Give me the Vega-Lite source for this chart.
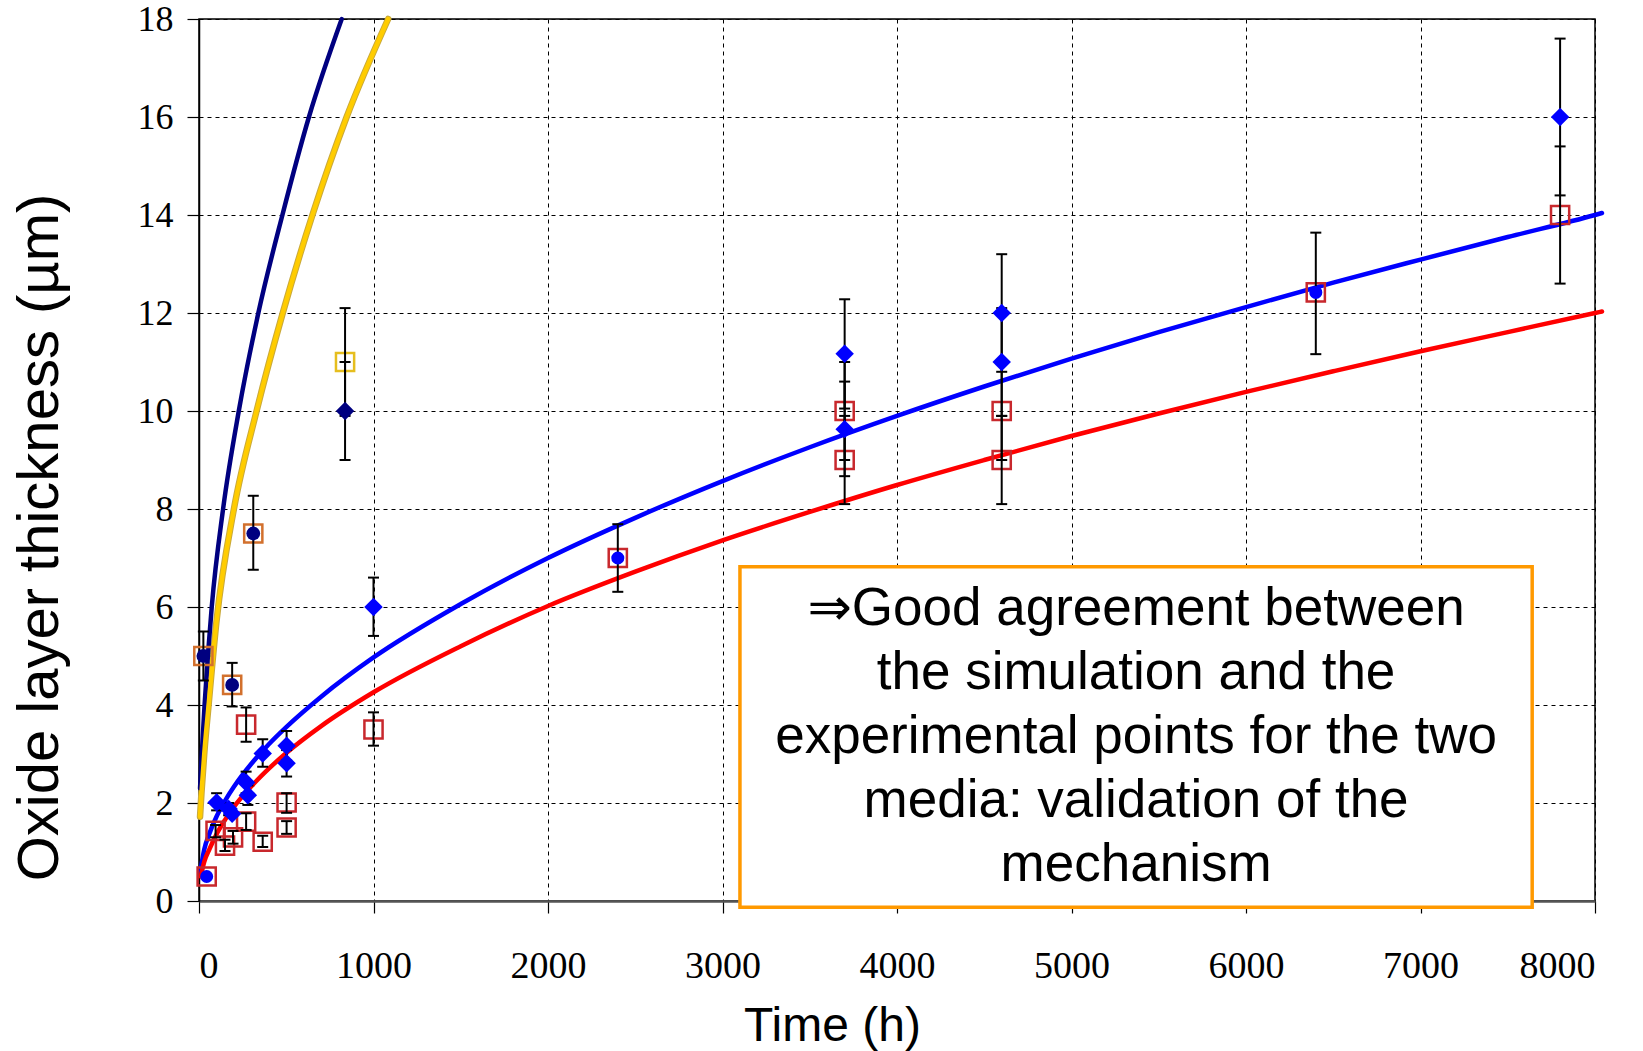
{
  "$schema": "https://vega.github.io/schema/vega-lite/v6.json",
  "width": 1396,
  "height": 882,
  "autosize": {"type": "none"},
  "padding": {"left": 199, "top": 19, "right": 48, "bottom": 150},
  "background": "white",
  "config": {
    "view": {"stroke": "#000", "strokeWidth": 1.5},
    "axis": {
      "grid": true, "gridColor": "#000", "gridDash": [4, 4], "gridWidth": 1, "gridOpacity": 1,
      "tickColor": "#000", "tickSize": 12, "tickWidth": 1.2,
      "labelFont": "Liberation Serif", "labelFontSize": 38, "labelColor": "#000",
      "titleFont": "Liberation Sans", "titleFontWeight": "normal", "titleColor": "#000"
    },
    "axisX": {"domainColor": "#555", "domainWidth": 2.5, "labelPadding": 34, "titleFontSize": 48, "titleX": 633, "titleY": 139, "titleBaseline": "alphabetic", "titleAlign": "center"},
    "axisY": {"domainColor": "#000", "domainWidth": 1.5, "labelPadding": 14, "labelFontSize": 36, "titleFontSize": 58, "titleAngle": -90, "titleX": -142, "titleY": 518, "titleBaseline": "alphabetic", "titleAlign": "center"}
  },
  "datasets": {
    "curves": [
      {"s": "navy", "t": 6, "v": 2.3}, {"s": "navy", "t": 16, "v": 3.0}, {"s": "navy", "t": 32, "v": 4.0}, {"s": "navy", "t": 73, "v": 6.0}, {"s": "navy", "t": 138, "v": 8.0}, {"s": "navy", "t": 228, "v": 10.0}, {"s": "navy", "t": 340, "v": 12.0}, {"s": "navy", "t": 478, "v": 14.0}, {"s": "navy", "t": 630, "v": 16.0}, {"s": "navy", "t": 818, "v": 18.0},
      {"s": "yellow", "t": 6, "v": 1.72}, {"s": "yellow", "t": 14, "v": 2.2}, {"s": "yellow", "t": 30, "v": 3.0}, {"s": "yellow", "t": 55, "v": 4.0}, {"s": "yellow", "t": 100, "v": 5.7}, {"s": "yellow", "t": 200, "v": 8.0}, {"s": "yellow", "t": 330, "v": 10.0}, {"s": "yellow", "t": 480, "v": 12.0}, {"s": "yellow", "t": 650, "v": 14.0}, {"s": "yellow", "t": 846, "v": 16.0}, {"s": "yellow", "t": 1084, "v": 18.0},
      {"s": "blue", "t": 8, "v": 0.6}, {"s": "blue", "t": 30, "v": 1.05}, {"s": "blue", "t": 60, "v": 1.38}, {"s": "blue", "t": 100, "v": 1.72}, {"s": "blue", "t": 150, "v": 2.05}, {"s": "blue", "t": 200, "v": 2.33}, {"s": "blue", "t": 300, "v": 2.8}, {"s": "blue", "t": 400, "v": 3.2}, {"s": "blue", "t": 500, "v": 3.55}, {"s": "blue", "t": 700, "v": 4.17}, {"s": "blue", "t": 1000, "v": 4.97}, {"s": "blue", "t": 1500, "v": 6.06}, {"s": "blue", "t": 2000, "v": 7.0}, {"s": "blue", "t": 2500, "v": 7.82}, {"s": "blue", "t": 3000, "v": 8.57}, {"s": "blue", "t": 3500, "v": 9.26}, {"s": "blue", "t": 4000, "v": 9.9}, {"s": "blue", "t": 4500, "v": 10.5}, {"s": "blue", "t": 5000, "v": 11.07}, {"s": "blue", "t": 5500, "v": 11.61}, {"s": "blue", "t": 6000, "v": 12.12}, {"s": "blue", "t": 6500, "v": 12.62}, {"s": "blue", "t": 7000, "v": 13.09}, {"s": "blue", "t": 7500, "v": 13.55}, {"s": "blue", "t": 8000, "v": 14.0}, {"s": "blue", "t": 8040, "v": 14.04},
      {"s": "red", "t": 10, "v": 0.5}, {"s": "red", "t": 30, "v": 0.8}, {"s": "red", "t": 60, "v": 1.06}, {"s": "red", "t": 100, "v": 1.36}, {"s": "red", "t": 150, "v": 1.66}, {"s": "red", "t": 200, "v": 1.92}, {"s": "red", "t": 300, "v": 2.34}, {"s": "red", "t": 400, "v": 2.7}, {"s": "red", "t": 500, "v": 3.02}, {"s": "red", "t": 700, "v": 3.57}, {"s": "red", "t": 1000, "v": 4.26}, {"s": "red", "t": 1500, "v": 5.2}, {"s": "red", "t": 2000, "v": 6.02}, {"s": "red", "t": 2500, "v": 6.72}, {"s": "red", "t": 3000, "v": 7.36}, {"s": "red", "t": 3500, "v": 7.94}, {"s": "red", "t": 4000, "v": 8.49}, {"s": "red", "t": 4500, "v": 9.0}, {"s": "red", "t": 5000, "v": 9.49}, {"s": "red", "t": 5500, "v": 9.95}, {"s": "red", "t": 6000, "v": 10.39}, {"s": "red", "t": 6500, "v": 10.81}, {"s": "red", "t": 7000, "v": 11.22}, {"s": "red", "t": 7500, "v": 11.61}, {"s": "red", "t": 8000, "v": 12.0}, {"s": "red", "t": 8040, "v": 12.03}
    ],
    "pts": [
      {"k": "rs", "t": 44, "v": 0.5}, {"k": "rs", "t": 95, "v": 1.43}, {"k": "rs", "t": 149, "v": 1.13}, {"k": "rs", "t": 195, "v": 1.3}, {"k": "rs", "t": 270, "v": 3.6}, {"k": "rs", "t": 270, "v": 1.62}, {"k": "rs", "t": 365, "v": 1.21}, {"k": "rs", "t": 502, "v": 2.01}, {"k": "rs", "t": 502, "v": 1.5}, {"k": "rs", "t": 1000, "v": 3.5}, {"k": "rs", "t": 2400, "v": 7.0}, {"k": "rs", "t": 3700, "v": 10.0}, {"k": "rs", "t": 3700, "v": 9.0}, {"k": "rs", "t": 4600, "v": 10.0}, {"k": "rs", "t": 4600, "v": 9.0}, {"k": "rs", "t": 6400, "v": 12.42}, {"k": "rs", "t": 7800, "v": 14.0},
      {"k": "os", "t": 25, "v": 5.0}, {"k": "os", "t": 190, "v": 4.41}, {"k": "os", "t": 311, "v": 7.5},
      {"k": "ys", "t": 837, "v": 11.0},
      {"k": "bd", "t": 101, "v": 2.01}, {"k": "bd", "t": 170, "v": 1.88}, {"k": "bd", "t": 190, "v": 1.78}, {"k": "bd", "t": 270, "v": 2.42}, {"k": "bd", "t": 280, "v": 2.16}, {"k": "bd", "t": 365, "v": 3.01}, {"k": "bd", "t": 502, "v": 3.17}, {"k": "bd", "t": 502, "v": 2.81}, {"k": "bd", "t": 1000, "v": 6.0}, {"k": "bd", "t": 3700, "v": 11.17}, {"k": "bd", "t": 3700, "v": 9.63}, {"k": "bd", "t": 4600, "v": 12.0}, {"k": "bd", "t": 4600, "v": 11.0}, {"k": "bd", "t": 7800, "v": 16.0},
      {"k": "bc", "t": 44, "v": 0.5}, {"k": "bc", "t": 2400, "v": 7.0}, {"k": "bc", "t": 6400, "v": 12.42},
      {"k": "nc", "t": 25, "v": 5.0}, {"k": "nc", "t": 190, "v": 4.41}, {"k": "nc", "t": 311, "v": 7.5},
      {"k": "nd", "t": 837, "v": 10.0}
    ],
    "errs": [
      {"t": 25, "lo": 4.5, "hi": 5.5}, {"t": 101, "lo": 1.85, "hi": 2.2}, {"t": 95, "lo": 1.3, "hi": 1.55}, {"t": 149, "lo": 1.02, "hi": 1.25}, {"t": 170, "lo": 1.75, "hi": 2.0}, {"t": 190, "lo": 3.97, "hi": 4.86}, {"t": 195, "lo": 1.17, "hi": 1.43}, {"t": 270, "lo": 3.25, "hi": 3.95}, {"t": 270, "lo": 2.2, "hi": 2.64}, {"t": 280, "lo": 1.96, "hi": 2.36}, {"t": 270, "lo": 1.45, "hi": 1.79}, {"t": 311, "lo": 6.76, "hi": 8.27}, {"t": 365, "lo": 2.74, "hi": 3.3}, {"t": 365, "lo": 1.1, "hi": 1.33}, {"t": 502, "lo": 2.87, "hi": 3.47}, {"t": 502, "lo": 2.54, "hi": 3.08}, {"t": 502, "lo": 1.8, "hi": 2.2}, {"t": 502, "lo": 1.37, "hi": 1.63},
      {"t": 837, "lo": 9.0, "hi": 11.0}, {"t": 837, "lo": 9.9, "hi": 12.1}, {"t": 1000, "lo": 5.41, "hi": 6.6}, {"t": 1000, "lo": 3.17, "hi": 3.85}, {"t": 2400, "lo": 6.31, "hi": 7.69},
      {"t": 3700, "lo": 10.05, "hi": 12.28}, {"t": 3700, "lo": 8.67, "hi": 10.6}, {"t": 3700, "lo": 9.0, "hi": 11.0}, {"t": 3700, "lo": 8.1, "hi": 9.9},
      {"t": 4600, "lo": 10.8, "hi": 13.2}, {"t": 4600, "lo": 9.9, "hi": 12.1}, {"t": 4600, "lo": 9.0, "hi": 11.0}, {"t": 4600, "lo": 8.1, "hi": 9.9},
      {"t": 6400, "lo": 11.16, "hi": 13.64}, {"t": 7800, "lo": 14.4, "hi": 17.6}, {"t": 7800, "lo": 12.6, "hi": 15.4}
    ],
    "box": [{"x0": 3100, "x1": 7640, "y0": 6.82, "y1": -0.13}],
    "note": [{"t": 5370, "v": 5.63, "lines": ["⇒Good agreement between", "the simulation and the", "experimental points for the two", "media: validation of the", "mechanism"]}]
  },
  "layer": [
    {
      "data": {"name": "curves"},
      "transform": [{"filter": "datum.s === 'yellow'"}],
      "mark": {"type": "line", "strokeWidth": 6.5, "interpolate": "monotone", "strokeCap": "round", "color": "#C9A93A"},
      "encoding": {
        "x": {"field": "t", "type": "quantitative", "scale": {"domain": [0, 8000], "nice": false, "zero": false},
              "axis": {"title": "Time (h)", "format": "d", "values": [0, 1000, 2000, 3000, 4000, 5000, 6000, 7000, 8000]}},
        "y": {"field": "v", "type": "quantitative", "scale": {"domain": [0, 18], "nice": false, "zero": false},
              "axis": {"title": "Oxide layer thickness (µm)", "format": "d", "values": [0, 2, 4, 6, 8, 10, 12, 14, 16, 18]}}
      }
    },
    {
      "data": {"name": "curves"},
      "mark": {"type": "line", "strokeWidth": 4.5, "interpolate": "monotone", "strokeCap": "round"},
      "encoding": {
        "x": {"field": "t", "type": "quantitative"},
        "y": {"field": "v", "type": "quantitative"},
        "color": {"field": "s", "type": "nominal", "scale": {"domain": ["navy", "yellow", "blue", "red"], "range": ["#000080", "#FFCC00", "#0000FF", "#FF0000"]}, "legend": null}
      }
    },
    {
      "data": {"name": "pts"},
      "transform": [{"filter": "datum.k === 'rs'"}],
      "mark": {"type": "point", "shape": "square", "filled": false, "stroke": "#C8282D", "strokeWidth": 2.5, "size": 330, "opacity": 1},
      "encoding": {"x": {"field": "t", "type": "quantitative"}, "y": {"field": "v", "type": "quantitative"}}
    },
    {
      "data": {"name": "pts"},
      "transform": [{"filter": "datum.k === 'os'"}],
      "mark": {"type": "point", "shape": "square", "filled": false, "stroke": "#D2702D", "strokeWidth": 2.5, "size": 330, "opacity": 1},
      "encoding": {"x": {"field": "t", "type": "quantitative"}, "y": {"field": "v", "type": "quantitative"}}
    },
    {
      "data": {"name": "pts"},
      "transform": [{"filter": "datum.k === 'ys'"}],
      "mark": {"type": "point", "shape": "square", "filled": false, "stroke": "#E6BE1E", "strokeWidth": 2.5, "size": 330, "opacity": 1},
      "encoding": {"x": {"field": "t", "type": "quantitative"}, "y": {"field": "v", "type": "quantitative"}}
    },
    {
      "data": {"name": "errs"},
      "mark": {"type": "rule", "color": "#000", "strokeWidth": 2},
      "encoding": {"x": {"field": "t", "type": "quantitative"}, "y": {"field": "lo", "type": "quantitative"}, "y2": {"field": "hi"}}
    },
    {
      "data": {"name": "errs"},
      "mark": {"type": "tick", "orient": "horizontal", "color": "#000", "size": 11, "thickness": 2, "opacity": 1},
      "encoding": {"x": {"field": "t", "type": "quantitative"}, "y": {"field": "lo", "type": "quantitative"}}
    },
    {
      "data": {"name": "errs"},
      "mark": {"type": "tick", "orient": "horizontal", "color": "#000", "size": 11, "thickness": 2, "opacity": 1},
      "encoding": {"x": {"field": "t", "type": "quantitative"}, "y": {"field": "hi", "type": "quantitative"}}
    },
    {
      "data": {"name": "pts"},
      "transform": [{"filter": "datum.k === 'bd'"}],
      "mark": {"type": "point", "shape": "diamond", "filled": true, "color": "#0000FF", "size": 340, "opacity": 1},
      "encoding": {"x": {"field": "t", "type": "quantitative"}, "y": {"field": "v", "type": "quantitative"}}
    },
    {
      "data": {"name": "pts"},
      "transform": [{"filter": "datum.k === 'bc'"}],
      "mark": {"type": "point", "shape": "circle", "filled": true, "color": "#0000FF", "size": 170, "opacity": 1},
      "encoding": {"x": {"field": "t", "type": "quantitative"}, "y": {"field": "v", "type": "quantitative"}}
    },
    {
      "data": {"name": "pts"},
      "transform": [{"filter": "datum.k === 'nc'"}],
      "mark": {"type": "point", "shape": "circle", "filled": true, "color": "#000080", "size": 190, "opacity": 1},
      "encoding": {"x": {"field": "t", "type": "quantitative"}, "y": {"field": "v", "type": "quantitative"}}
    },
    {
      "data": {"name": "pts"},
      "transform": [{"filter": "datum.k === 'nd'"}],
      "mark": {"type": "point", "shape": "diamond", "filled": true, "color": "#000080", "size": 340, "opacity": 1},
      "encoding": {"x": {"field": "t", "type": "quantitative"}, "y": {"field": "v", "type": "quantitative"}}
    },
    {
      "data": {"name": "box"},
      "mark": {"type": "rect", "fill": "#FFFFFF", "stroke": "#FF9900", "strokeWidth": 3.5},
      "encoding": {"x": {"field": "x0", "type": "quantitative"}, "x2": {"field": "x1"}, "y": {"field": "y0", "type": "quantitative"}, "y2": {"field": "y1"}}
    },
    {
      "data": {"name": "note"},
      "mark": {"type": "text", "font": "Liberation Sans, DejaVu Sans", "fontSize": 53, "lineHeight": 64, "align": "center", "baseline": "alphabetic", "color": "#000"},
      "encoding": {"x": {"field": "t", "type": "quantitative"}, "y": {"field": "v", "type": "quantitative"}, "text": {"field": "lines"}}
    }
  ]
}
